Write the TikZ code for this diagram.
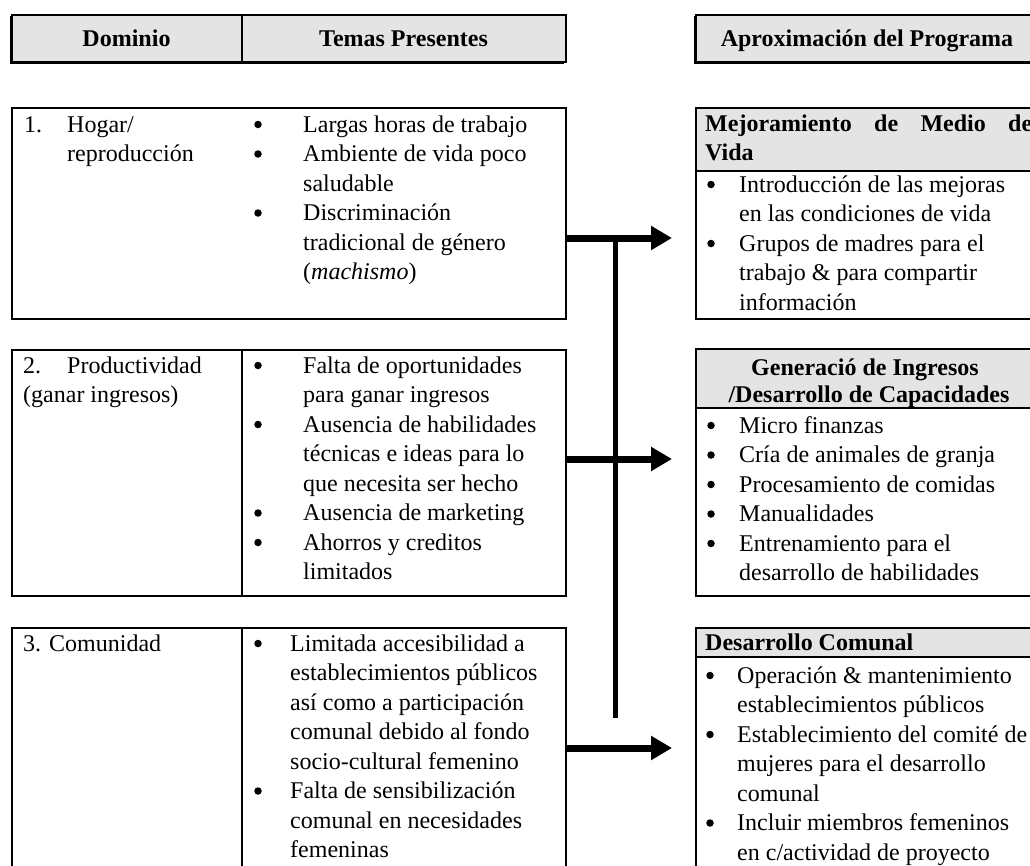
\documentclass[tikz,border=0pt]{standalone}
\usepackage{fontspec}
\setmainfont{Liberation Serif}
\usetikzlibrary{arrows.meta}
\newcommand{\bodyfs}{\fontsize{24pt}{29.5pt}\selectfont}
\newcommand{\headfs}{\fontsize{24pt}{28pt}\selectfont}
\definecolor{hdrgray}{HTML}{E4E4E4}
\begin{document}
\begin{tikzpicture}[x=1pt,y=-1pt,
  box/.style={draw=black, line width=2pt, inner sep=0pt, anchor=north west},
  hdr/.style={box, fill=hdrgray},
  t/.style={anchor=base west, inner sep=0pt, font=\bodyfs},
  tb/.style={t, font=\bodyfs\bfseries},
  tc/.style={anchor=base, inner sep=0pt, font=\bodyfs\bfseries},
  ht/.style={anchor=base, inner sep=0pt, font=\headfs\bfseries},
  dot/.style={circle, fill=black, draw=none, inner sep=0pt, minimum size=7.5pt},
  conn/.style={line width=7pt, -{Triangle[length=21pt,width=23pt]}, shorten >=23pt},
  spine/.style={line width=5pt},
  divider/.style={line width=2pt},
]
\useasboundingbox (0,0) rectangle (1030,865);
\clip (0,0) rectangle (1030,865);

% ---------- headers ----------
\fill[black] (9.5,16) rectangle (563.5,63.5);
\node[hdr, minimum width=554pt, minimum height=47pt] (h1) at (11,14) {};
\draw[divider] (242,14) -- (242,61);
\node[ht] (h1a) at (126.5,46) {Dominio};
\node[ht] (h1b) at (403.5,46) {Temas Presentes};

\fill[black] (693.5,16) rectangle (1045,63.5);
\node[hdr, minimum width=345pt, minimum height=47pt] (h2) at (695,14) {};
\node[ht] (h2a) at (867,46) {Aproximación del Programa};

% ---------- left box 1 ----------
\node[box, minimum width=554pt, minimum height=211pt] (b1) at (11,107) {};
\node[t] (b1n) at (24,132) {1.};
\node[t] (b1d1) at (67,132) {Hogar/};
\node[t] (b1d2) at (67,161.5) {reproducción};
\node[dot] (b1u1) at (258,124.5) {};
\node[dot] (b1u2) at (258,154) {};
\node[dot] (b1u3) at (258,213) {};
\node[t] (b1t1) at (303,132) {Largas horas de trabajo};
\node[t] (b1t2) at (303,161.5) {Ambiente de vida poco};
\node[t] (b1t3) at (303,191) {saludable};
\node[t] (b1t4) at (303,220.5) {Discriminación};
\node[t] (b1t5) at (303,250) {tradicional de género};
\node[t] (b1t6) at (303,279.5) {(\textit{machismo})};

% ---------- left box 2 ----------
\node[box, minimum width=554pt, minimum height=246pt] (b2) at (11,349) {};
\draw[divider] (242,349) -- (242,595);
\node[t] (b2n) at (23,373) {2.};
\node[t] (b2d1) at (67,373) {Productividad};
\node[t] (b2d2) at (23,402.5) {(ganar ingresos)};
\node[dot] (b2u1) at (258,365.5) {};
\node[dot] (b2u2) at (258,424.5) {};
\node[dot] (b2u3) at (258,513) {};
\node[dot] (b2u4) at (258,542.5) {};
\node[t] (b2t1) at (303,373) {Falta de oportunidades};
\node[t] (b2t2) at (303,402.5) {para ganar ingresos};
\node[t] (b2t3) at (303,432) {Ausencia de habilidades};
\node[t] (b2t4) at (303,461.5) {técnicas e ideas para lo};
\node[t] (b2t5) at (303,491) {que necesita ser hecho};
\node[t] (b2t6) at (303,520.5) {Ausencia de marketing};
\node[t] (b2t7) at (303,550) {Ahorros y creditos};
\node[t] (b2t8) at (303,579.5) {limitados};

% ---------- left box 3 ----------
\node[box, minimum width=554pt, minimum height=260pt] (b3) at (11,627) {};
\draw[divider] (242,627) -- (242,887);
\node[t] (b3d) at (23,651) {3. Comunidad};
\node[dot] (b3u1) at (258,643.5) {};
\node[dot] (b3u2) at (258,791) {};
\node[t] (b3t1) at (290,651) {Limitada accesibilidad a};
\node[t] (b3t2) at (290,680.5) {establecimientos públicos};
\node[t] (b3t3) at (290,710) {así como a participación};
\node[t] (b3t4) at (290,739.5) {comunal debido al fondo};
\node[t] (b3t5) at (290,769) {socio-cultural femenino};
\node[t] (b3t6) at (290,798.5) {Falta de sensibilización};
\node[t] (b3t7) at (290,828) {comunal en necesidades};
\node[t] (b3t8) at (290,857.5) {femeninas};

% ---------- right box 1 ----------
\fill[hdrgray] (695,107) rectangle (1040,171);
\draw[divider] (695,171) -- (1040,171);
\node[box, minimum width=345pt, minimum height=211pt] (r1) at (695,107) {};
\node[tb] (r1h1) at (705,131) {\makebox[327pt][s]{Mejoramiento de Medio de}};
\node[tb] (r1h2) at (705,160.5) {Vida};
\node[dot] (r1u1) at (711,184.5) {};
\node[dot] (r1u2) at (711,243.5) {};
\node[t] (r1t1) at (739,192) {Introducción de las mejoras};
\node[t] (r1t2) at (739,221.5) {en las condiciones de vida};
\node[t] (r1t3) at (739,251) {Grupos de madres para el};
\node[t] (r1t4) at (739,280.5) {trabajo \& para compartir};
\node[t] (r1t5) at (739,310) {información};

% ---------- right box 2 ----------
\fill[hdrgray] (695,348) rectangle (1040,408);
\draw[divider] (695,408) -- (1040,408);
\node[box, minimum width=345pt, minimum height=247pt] (r2) at (695,348) {};
\node[tc] (r2h1) at (865,375) {Generació de Ingresos};
\node[tc] (r2h2) at (869,402) {/Desarrollo de Capacidades};
\node[dot] (r2u1) at (711,425.5) {};
\node[dot] (r2u2) at (711,455) {};
\node[dot] (r2u3) at (711,484.5) {};
\node[dot] (r2u4) at (711,514) {};
\node[dot] (r2u5) at (711,543.5) {};
\node[t] (r2t1) at (739,433) {Micro finanzas};
\node[t] (r2t2) at (739,462.5) {Cría de animales de granja};
\node[t] (r2t3) at (739,492) {Procesamiento de comidas};
\node[t] (r2t4) at (739,521.5) {Manualidades};
\node[t] (r2t5) at (739,551) {Entrenamiento para el};
\node[t] (r2t6) at (739,580.5) {desarrollo de habilidades};

% ---------- right box 3 ----------
\fill[hdrgray] (695,627) rectangle (1040,657);
\draw[divider] (695,657) -- (1040,657);
\node[box, minimum width=345pt, minimum height=260pt] (r3) at (695,627) {};
\node[tb] (r3h) at (705,650) {Desarrollo Comunal};
\node[dot] (r3u1) at (710,675.5) {};
\node[dot] (r3u2) at (710,734.5) {};
\node[dot] (r3u3) at (710,823) {};
\node[t] (r3t1) at (737,683) {Operación \& mantenimiento};
\node[t] (r3t2) at (737,712.5) {establecimientos públicos};
\node[t] (r3t3) at (737,742) {Establecimiento del comité de};
\node[t] (r3t4) at (737,771.5) {mujeres para el desarrollo};
\node[t] (r3t5) at (737,801) {comunal};
\node[t] (r3t6) at (737,830.5) {Incluir miembros femeninos};
\node[t] (r3t7) at (737,860) {en c/actividad de proyecto};

% ---------- connectors ----------
\coordinate (j1) at (615,238);
\coordinate (j2) at (615,459);
\coordinate (j3) at (615,748);
\coordinate (jend) at (615,718);
\draw[spine] (j1) -- (jend);
\draw[conn] (b1.east |- j1) -- (r1.west |- j1);
\draw[conn] (b2.east |- j2) -- (r2.west |- j2);
\draw[conn] (b3.east |- j3) -- (r3.west |- j3);
\end{tikzpicture}
\end{document}
